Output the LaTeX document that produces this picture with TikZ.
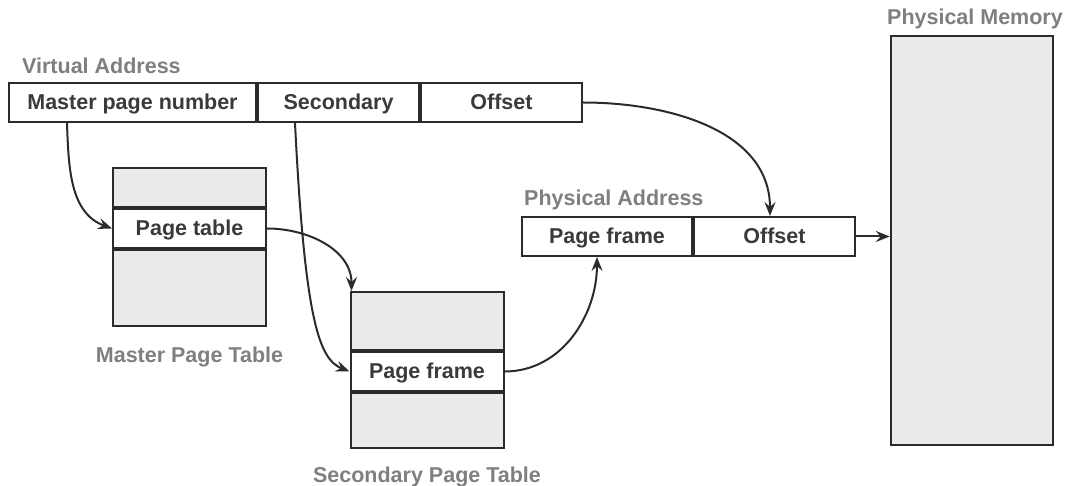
\documentclass[tikz,border=0pt]{standalone}
\usepackage{fontspec}
\setmainfont{Liberation Sans}
\usetikzlibrary{arrows.meta,positioning}
\definecolor{edgec}{HTML}{2B2B2B}
\definecolor{txtc}{HTML}{3A3A3A}
\definecolor{lblc}{HTML}{7F7F7F}
\definecolor{tblfill}{HTML}{EAEAEA}
\tikzset{
  fld/.style={draw=edgec,rectangle,line width=2pt,minimum height=39pt,inner sep=0pt,text height=18pt,text depth=4.5pt,text=txtc,font=\fontsize{21.5}{24}\selectfont\bfseries},
  tblrow/.style={fld,minimum width=153pt},
  tblgray/.style={tblrow,fill=tblfill},
  lbl/.style={inner sep=0pt,text=lblc,font=\fontsize{21.5}{24}\selectfont\bfseries},
  arr/.style={-{Stealth[length=14pt,width=11pt,inset=5pt]},line width=2pt,draw=edgec}
}
\begin{document}
\begin{tikzpicture}[x=1pt,y=1pt]
  \useasboundingbox (0,0) rectangle (1068,-486);
  % Virtual address fields
  \node[fld, minimum width=247pt] (vmaster) at (132.5,-102.5) {Master page number};
  \node[fld, minimum width=161pt, right=0pt of vmaster] (vsec) {Secondary};
  \node[fld, minimum width=161pt, right=0pt of vsec] (voff) {Offset};
  \node[lbl, above right=8pt and 14pt of vmaster.north west] {Virtual Address};

  % Master page table
  \node[tblgray] (mtop) at (189.5,-187.5) {};
  \node[tblrow, below=0pt of mtop] (mpt) {Page table};
  \node[tblgray, minimum height=76pt, below=0pt of mpt] (mbot) {};
  \node[lbl, below=20pt of mbot] {Master Page Table};

  % Secondary page table
  \node[tblgray, minimum height=58pt] (stop) at (427,-321) {};
  \node[tblrow, below=0pt of stop] (spf) {Page frame};
  \node[tblgray, minimum height=55pt, below=0pt of spf] (sbot) {};
  \node[lbl, below=18pt of sbot] {Secondary Page Table};

  % Physical address fields
  \node[fld, minimum width=170pt] (ppf) at (607,-236.5) {Page frame};
  \node[fld, minimum width=161pt, right=0pt of ppf] (poff) {Offset};
  \node[lbl, above right=6pt and 3pt of ppf.north west] {Physical Address};

  % Physical memory
  \node[draw=edgec, line width=2.5pt, fill=tblfill, minimum width=162pt, minimum height=409pt] (mem) at (972,-240.5) {};
  \node[lbl, above=6pt of mem, xshift=3pt] {Physical Memory};

  % Connections
  \draw[arr] ([xshift=-65.5pt]vmaster.south) to[out=-88,in=160] (mpt.west);
  \draw[arr] ([xshift=-43.5pt]vsec.south) .. controls +(10,-200) and +(-30,12) .. (spf.west);
  \draw[arr] (mpt.east) to[out=0,in=90] ([xshift=2pt]stop.north west);
  \draw[arr] (spf.east) to[out=0,in=-90] ([xshift=-10pt]ppf.south);
  \draw[arr] (voff.east) to[out=0,in=90] ([xshift=-4.5pt]poff.north);
  \draw[arr] (poff.east) -- (poff.east -| mem.west);
\end{tikzpicture}
\end{document}
